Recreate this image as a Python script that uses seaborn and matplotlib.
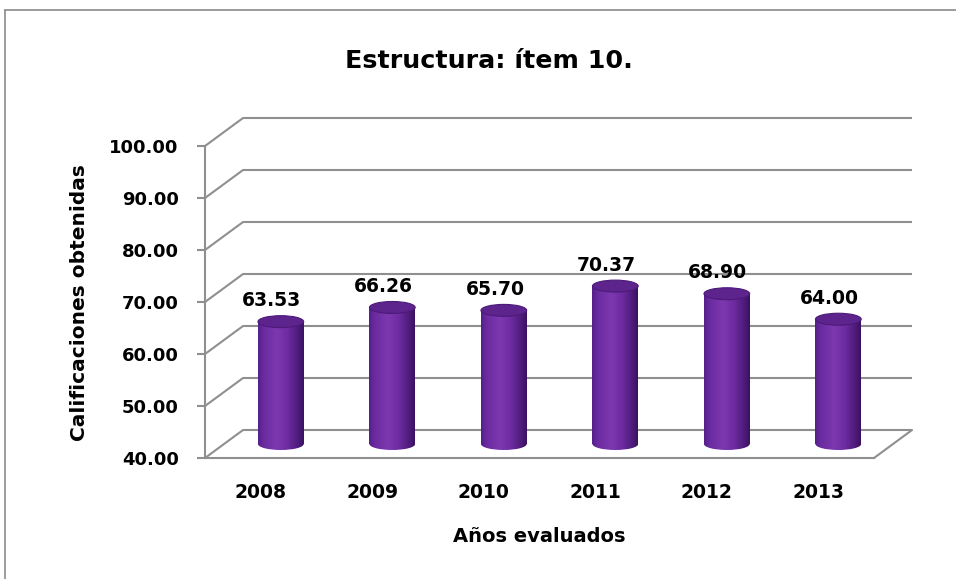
import numpy as np
import pandas as pd
import matplotlib
matplotlib.use("Agg")
import matplotlib.pyplot as plt
import seaborn as sns
from matplotlib.patches import Ellipse
from matplotlib.colors import LinearSegmentedColormap
from matplotlib.lines import Line2D

# ---- data ----
years = ["2008", "2009", "2010", "2011", "2012", "2013"]
scores = [63.53, 66.26, 65.70, 70.37, 68.90, 64.00]
y_ticks = [40, 50, 60, 70, 80, 90, 100]
title = "Estructura: ítem 10."
x_label = "Años evaluados"
y_label = "Calificaciones obtenidas"

# ---- style ----
sns.set_theme(style="white")
plt.rcParams['font.family'] = ['DejaVu Sans']
GRID = "#8f8f8f"
W, H = 956, 579
YMIN, YMAX = 40, 100
# depth offsets (data units): back wall and middle plane
DXB, DYB = 0.341, 5.38
DXM, DYM = 0.18, 2.69
BAR_W = 0.41
ELL_H = 2.3

fig = plt.figure(figsize=(W / 100, H / 100), dpi=100)
fig.patch.set_facecolor("white")
ax = fig.add_axes([205 / W, (H - 458) / H, (874 - 205) / W, (458 - 146) / H])
ax.set_facecolor("none")

df = pd.DataFrame({"year": years, "score": scores})
sns.barplot(data=df, x="year", y="score", width=BAR_W, color="#6b2b9c",
            saturation=1, ax=ax, zorder=4, errorbar=None)

ax.set_xlim(-0.5, 5.5)
ax.set_ylim(YMIN, YMAX)

# back wall gridlines and left-wall diagonals
for t in y_ticks:
    ax.plot([-0.5 + DXB, 5.5 + DXB], [t + DYB, t + DYB], color=GRID, lw=1.5,
            clip_on=False, zorder=1, solid_capstyle="butt")
    ax.plot([-0.5, -0.5 + DXB], [t, t + DYB], color=GRID, lw=1.5,
            clip_on=False, zorder=1)
# floor right edge
ax.plot([5.5, 5.5 + DXB], [YMIN, YMIN + DYB], color=GRID, lw=1.5,
        clip_on=False, zorder=1)

cmap = LinearSegmentedColormap.from_list(
    "cyl", [(0.0, "#55208a"), (0.12, "#6a2ba0"), (0.42, "#7d38b0"),
            (0.65, "#6d2ca1"), (0.88, "#4d1b7a"), (1.0, "#3a1260")])
grad = np.linspace(0, 1, 256).reshape(1, -1)

for i, p in enumerate(list(ax.patches)):
    x0 = p.get_x() + DXM
    w = p.get_width()
    v = p.get_height()
    p.set_xy((x0, YMIN + DYM))
    p.set_height(v - YMIN)
    p.set_clip_on(False)
    p.set_edgecolor("none")
    cx = x0 + w / 2
    # bottom ellipse (front half visible)
    bot = Ellipse((cx, YMIN + DYM), w, ELL_H, facecolor="none",
                  edgecolor="none", zorder=3)
    ax.add_patch(bot)
    im1 = ax.imshow(grad, extent=[x0, x0 + w, YMIN + DYM - ELL_H, YMIN + DYM + ELL_H],
                    aspect="auto", cmap=cmap, zorder=3.5, interpolation="bilinear")
    im1.set_clip_path(bot)
    im2 = ax.imshow(grad, extent=[x0, x0 + w, YMIN + DYM, v + DYM],
                    aspect="auto", cmap=cmap, zorder=4.5, interpolation="bilinear")
    im2.set_clip_path(p)
    top = Ellipse((cx, v + DYM), w, ELL_H, facecolor="#5c248c",
                  edgecolor="#4c1a78", lw=0.8, zorder=6)
    ax.add_patch(top)
    ax.text(i + DXM - 0.08, v + DYM + 4.0, f"{v:.2f}", ha="center", va="center",
            fontsize=13.5, fontweight="bold", color="black", zorder=7)

ax.set_xlim(-0.5, 5.5)
ax.set_ylim(YMIN, YMAX)

# axes styling
for s in ["top", "right"]:
    ax.spines[s].set_visible(False)
for s in ["left", "bottom"]:
    ax.spines[s].set_color(GRID)
    ax.spines[s].set_linewidth(1.5)
ax.set_yticks(y_ticks)
ax.set_yticklabels([f"{t:.2f}" for t in y_ticks], fontsize=13, fontweight="bold")
ax.tick_params(axis="y", direction="out", length=6, width=1.5, color=GRID,
               pad=13, left=True, labelcolor="black")
ax.tick_params(axis="x", length=0, pad=18, labelcolor="black")
for lab in ax.get_xticklabels():
    lab.set_fontsize(13.5)
    lab.set_fontweight("bold")

ax.set_xlabel(x_label, fontsize=14, fontweight="bold", color="black")
ax.set_ylabel(y_label, fontsize=14.5, fontweight="bold", color="black")
ax.xaxis.set_label_coords(0.5, -0.253)
ax.xaxis.label.set_verticalalignment("center")
ax.yaxis.set_label_coords(-0.187, 0.497)
ax.yaxis.label.set_verticalalignment("center")

fig.text(489 / W, 1 - 68 / H, title, ha="center", va="baseline",
         fontsize=18.3, fontweight="bold", color="black")

# chart border (only left and top visible in crop)
fig.add_artist(Line2D([5 / W, 5 / W], [0, 1 - 10 / H], color="#8a8a8a", lw=1.2))
fig.add_artist(Line2D([5 / W, 1], [1 - 10 / H, 1 - 10 / H], color="#8a8a8a", lw=1.2))

fig.savefig("out.png", dpi=100)
